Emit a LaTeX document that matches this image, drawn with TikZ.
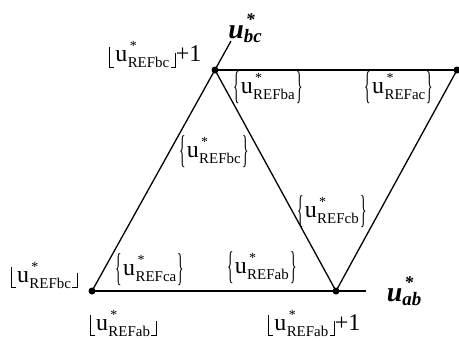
\documentclass[tikz,border=0pt]{standalone}
\usepackage{fontspec}
\setmainfont{Liberation Serif}
\newcommand\uref[1]{\hbox{\fontsize{24}{24}\selectfont u\kern0.5bp\raisebox{-6bp}{\rlap{\kern2bp\raisebox{17bp}{\fontsize{14}{14}\selectfont *}}\fontsize{15}{15}\selectfont REF#1}}}
\newcommand\uax[1]{\hbox{\fontsize{28}{28}\selectfont\bfseries\itshape u\raisebox{-4bp}{\rlap{\kern2bp\raisebox{17bp}{\fontsize{18}{18}\selectfont *}}\fontsize{19}{19}\selectfont #1}}}
\newcommand\lfl{\rule[-6bp]{0.9bp}{21bp}\kern-0.9bp\rule[-6bp]{5bp}{0.9bp}\kern1.5bp}
\newcommand\rfl{\kern1.5bp\rule[-6bp]{5bp}{0.9bp}\kern-0.9bp\rule[-6bp]{0.9bp}{15bp}}
\newcommand\flr[1]{\hbox{\lfl\uref{#1}\rfl}}
\newcommand\bigbr[1]{\raisebox{-11bp}{\resizebox*{6.5bp}{32bp}{\raisebox{\depth}{#1}}}}
\newcommand\brc[1]{\hbox{\bigbr{\{}\kern1bp\uref{#1}\kern1.5bp\bigbr{\}}}}
\begin{document}
\begin{tikzpicture}[x=1bp,y=-1bp,
  edge/.style={line width=1.3bp,black},
  dot/.style={circle,fill=black,inner sep=0pt,minimum size=7bp},
  lab/.style={inner sep=0pt,font=\fontsize{24}{24}\selectfont}]
\useasboundingbox (0,0) rectangle (459,340);
\node[dot] (A) at (92,291) {};
\node[dot] (B) at (336,291) {};
\node[dot] (C) at (215,70) {};
\node[dot] (D) at (457,70) {};
\coordinate (Cax) at (231,41);
\coordinate (Bax) at (366,291);
\draw[edge] (A.center) -- (Bax);
\draw[edge] (A.center) -- (Cax);
\draw[edge] (C.center) -- (D.center);
\draw[edge] (C.center) -- (B.center);
\draw[edge] (B.center) -- (D.center);
\node[lab] (lbc) at (245,28) {\uax{bc}};
\node[lab] (lab) at (404,291) {\uax{ab}};
\node[lab] (f1) at (155,55) {\flr{bc}+1};
\node[lab] (f2) at (44,275) {\flr{bc}};
\node[lab] (f3) at (123,323) {\flr{ab}};
\node[lab] (f4) at (314,323) {\flr{ab}+1};
\node[lab] (b1) at (268,88) {\brc{ba}};
\node[lab] (b2) at (399,88) {\brc{ac}};
\node[lab] (b3) at (214,152) {\brc{bc}};
\node[lab] (b4) at (332,212) {\brc{cb}};
\node[lab] (b5) at (262,268) {\brc{ab}};
\node[lab] (b6) at (150,270) {\brc{ca}};
\end{tikzpicture}
\end{document}
